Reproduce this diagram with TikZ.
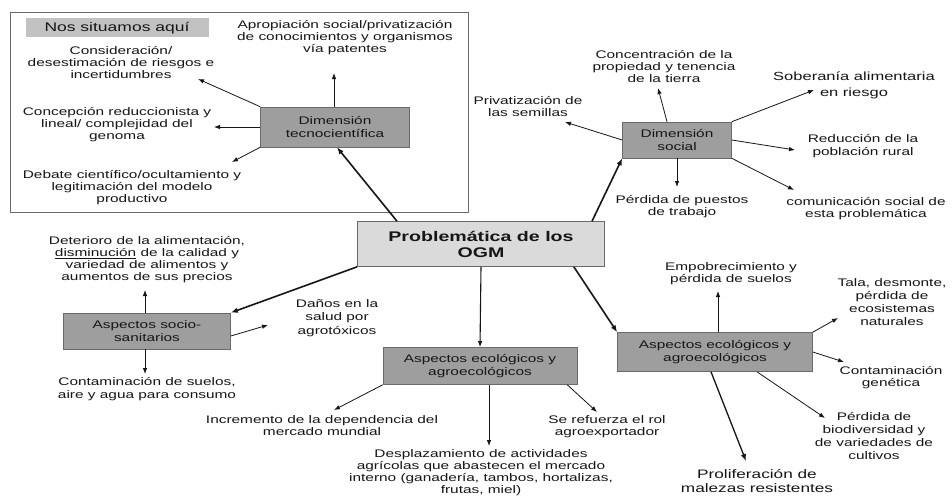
\documentclass[tikz,border=0pt]{standalone}
\usepackage{fontspec}
\setmainfont{Liberation Sans}[FakeStretch=1.4]
\usetikzlibrary{arrows.meta}
\definecolor{ink}{HTML}{161616}
\definecolor{boxfill}{HTML}{9E9E9E}
\definecolor{boxline}{HTML}{6A6A6A}
\definecolor{cenfill}{HTML}{DADADA}
\definecolor{bandfill}{HTML}{C2C2C2}
\begin{document}
\begin{tikzpicture}[x=1pt,y=-1pt,
  every node/.style={text=ink},
  txt/.style={align=center,inner sep=0pt,font=\fontsize{11}{12}\selectfont},
  bigtxt/.style={align=center,inner sep=0pt,font=\fontsize{12}{14}\selectfont},
  dimbox/.style={draw=boxline,fill=boxfill,line width=0.6pt,align=center,inner sep=0pt,font=\fontsize{11}{13}\selectfont},
  cenbox/.style={draw=boxline,fill=cenfill,line width=0.6pt,align=center,inner sep=0pt,font=\fontsize{14}{16}\selectfont\bfseries},
  arr/.style={draw=ink,line width=0.8pt,-{Latex[length=6pt,width=4.5pt]}},
  thickarr/.style={draw=ink,line width=1.6pt,-{Latex[length=7pt,width=5.5pt]}}
]
\useasboundingbox (0,0) rectangle (952,495);
\fill[white] (0,0) rectangle (952,495);

% frame
\node[draw=boxline,line width=0.8pt,minimum width=458pt,minimum height=200pt,inner sep=0pt] (frame) at (239,112) {};
\node[fill=bandfill,minimum width=183pt,minimum height=19pt,inner sep=0pt,font=\fontsize{12.5}{14}\selectfont] (band) at (117,28) {Nos situamos aquí};

% main boxes
\node[cenbox,minimum width=247pt,minimum height=45pt] (central) at (481,244) {Problemática de los\\OGM};
\node[dimbox,minimum width=149pt,minimum height=40pt] (tec) at (335,127) {Dimensión\\tecnocientífica};
\node[dimbox,minimum width=109pt,minimum height=36pt] (social) at (677,140) {Dimensión\\social};
\node[dimbox,minimum width=167pt,minimum height=36pt] (socio) at (147,331) {Aspectos socio-\\sanitarios};
\node[dimbox,minimum width=194pt,minimum height=37pt] (eco1) at (480,366) {Aspectos ecológicos y\\agroecológicos};
\node[dimbox,minimum width=195pt,minimum height=39pt] (eco2) at (715,352) {Aspectos ecológicos y\\agroecológicos};

% texts tecnocientifica
\node[txt] (tapro) at (345,38) {Apropiación social/privatización\\de conocimientos y organismos\\vía patentes};
\node[txt] (tcons) at (121,63) {Consideración/\\desestimación de riesgos e\\incertidumbres};
\node[txt] (tconc) at (117,125) {Concepción reduccionista y\\lineal/ complejidad del\\genoma};
\node[txt] (tdeb) at (132,188) {Debate científico/ocultamiento y\\legitimación del modelo\\productivo};

% texts social
\node[txt] (tpriv) at (528,107) {Privatización de\\las semillas};
\node[txt] (tconcen) at (664,67) {Concentración de la\\propiedad y tenencia\\de la tierra};
\node[align=center,inner sep=0pt,font=\fontsize{11.8}{16}\selectfont] (tsob) at (854,85) {Soberanía alimentaria\\en riesgo};
\node[txt,font=\fontsize{11}{13}\selectfont] (tred) at (863,146) {Reducción de la\\población rural};
\node[txt] (tcom) at (866,209) {comunicación social de\\esta problemática};
\node[txt] (tperd) at (682,207) {Pérdida de puestos\\de trabajo};

% texts socio-sanitarios
\node[txt] (tdet) at (147,260) {Deterioro de la alimentación,\\\underline{disminución} de la calidad y\\variedad de alimentos y\\aumentos de sus precios};
\node[txt,font=\fontsize{11}{13}\selectfont] (tcont) at (147,389) {Contaminación de suelos,\\aire y agua para consumo};
\node[txt,font=\fontsize{11}{13.5}\selectfont] (tdan) at (337,318) {Daños en la\\salud por\\agrotóxicos};

% texts eco1
\node[txt] (tinc) at (322,426) {Incremento de la dependencia del\\mercado mundial};
\node[txt] (tdes) at (481,473) {Desplazamiento de actividades\\agrícolas que abastecen el mercado\\interno (ganadería, tambos, hortalizas,\\frutas, miel)};
\node[txt] (tref) at (607,427) {Se refuerza el rol\\agroexportador};

% texts eco2
\node[txt] (temp) at (731,274) {Empobrecimiento y\\pérdida de suelos};
\node[txt,font=\fontsize{11}{13}\selectfont] (ttala) at (892,302) {Tala, desmonte,\\pérdida de\\ecosistemas\\naturales};
\node[txt] (tcg) at (891,378) {Contaminación\\genética};
\node[txt,font=\fontsize{11}{12.7}\selectfont] (tbio) at (874,436) {Pérdida de\\biodiversidad y\\de variedades de\\cultivos};
\node[bigtxt,font=\fontsize{12.3}{13.5}\selectfont] (tprol) at (757,481) {Proliferación de\\malezas resistentes};

% arrow tips
\coordinate (kapro) at (334,73);
\coordinate (kcons) at (198,79);
\coordinate (kconc) at (214,127);
\coordinate (kdeb) at (232,162);
\coordinate (kpriv) at (565,122);
\coordinate (kconcen) at (658,88);
\coordinate (ksob) at (814,90);
\coordinate (kred) at (795,150);
\coordinate (kcom) at (794,190);
\coordinate (kperd) at (677,187);
\coordinate (kdet) at (145,290);
\coordinate (kcont) at (145,374);
\coordinate (kdan) at (268,325);
\coordinate (kinc) at (334,410);
\coordinate (kdes) at (489,446);
\coordinate (kref) at (597,412);
\coordinate (kemp) at (718,291);
\coordinate (ktala) at (838,318);
\coordinate (kcg) at (844,362);
\coordinate (kbio) at (825,418);
\coordinate (kprol) at (746,461);

% central connectors
\draw[thickarr] ([xshift=-84pt]central.north) -- ([xshift=2pt]tec.south);
\draw[thickarr] ([xshift=111pt]central.north) -- (social.south west);
\draw[thickarr] (central.south west) -- (socio.north east);
\draw[arr,line width=1.1pt] (central.south) -- (eco1.north);
\draw[thickarr] ([xshift=-31pt]central.south east) -- (eco2.north west);

% tec connectors
\draw[arr] ([xshift=-1pt]tec.north) -- (kapro);
\draw[arr] (tec.north west) -- (kcons);
\draw[arr] (tec.west) -- (kconc);
\draw[arr] (tec.south west) -- (kdeb);

% social connectors
\draw[arr] (social.west) -- (kpriv);
\draw[arr] ([xshift=-10pt]social.north) -- (kconcen);
\draw[arr] (social.north east) -- (ksob);
\draw[arr] (social.east) -- (kred);
\draw[arr] (social.south east) -- (kcom);
\draw[arr] (social.south) -- (kperd);

% socio connectors
\draw[arr] ([xshift=-2pt]socio.north) -- (kdet);
\draw[arr] ([xshift=-2pt]socio.south) -- (kcont);
\draw[arr] ([yshift=-5pt]socio.east) -- (kdan);

% eco1 connectors
\draw[arr] (eco1.south west) -- (kinc);
\draw[arr] ([xshift=9pt]eco1.south) -- (kdes);
\draw[arr] ([xshift=-10pt]eco1.south east) -- (kref);

% eco2 connectors
\draw[arr] ([xshift=3pt]eco2.north) -- (kemp);
\draw[arr] (eco2.north east) -- (ktala);
\draw[arr] (eco2.east) -- (kcg);
\draw[arr] ([xshift=42pt]eco2.south) -- (kbio);
\draw[thickarr,line width=1.3pt] ([xshift=-4pt]eco2.south) -- (kprol);
\end{tikzpicture}
\end{document}
